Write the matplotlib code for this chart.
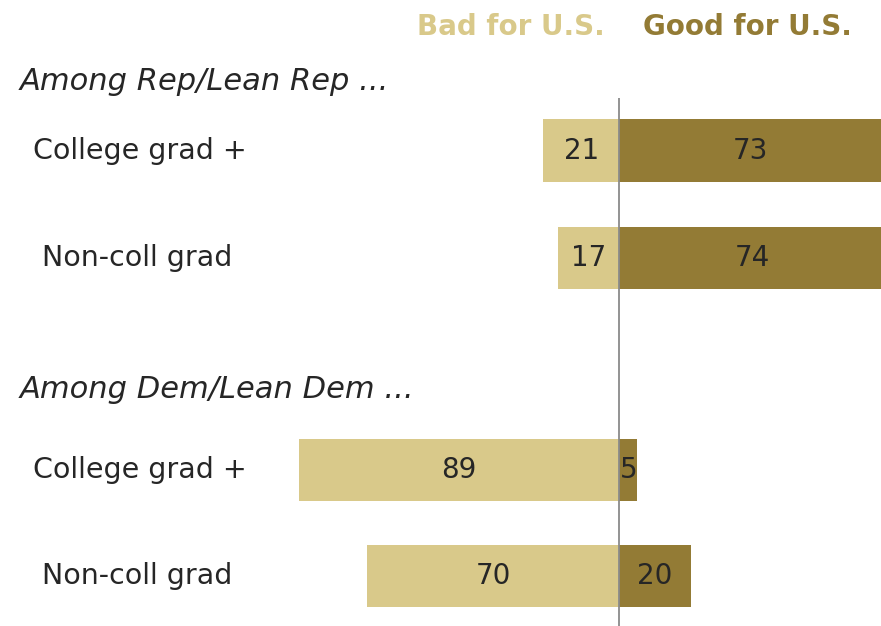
import matplotlib
matplotlib.use("Agg")
import matplotlib.pyplot as plt

LIGHT = "#D9C98A"
DARK = "#937B35"
TEXT = "#262626"
LINE = "#8a8a8a"

groups = ["Among Rep/Lean Rep ...", "Among Dem/Lean Dem ..."]
rows = ["College grad +", "Non-coll grad", "College grad +", "Non-coll grad"]
bad = [21, 17, 89, 70]
good = [73, 74, 5, 20]

# layout
ypos = [0, 1, 2.97, 3.96]
label_x = [33, 42, 33, 42]
XMIN, XMAX = -172, 72.8
YMIN, YMAX = 4.423, -1.4
FONT = "DejaVu Sans"

fig = plt.figure(figsize=(8.81, 6.26), dpi=100)
ax = fig.add_axes([0, 0, 1, 1])
ax.set_xlim(XMIN, XMAX)
ax.set_ylim(YMIN, YMAX)
ax.axis("off")

ax.barh(ypos, [-b for b in bad], height=0.58, color=LIGHT, linewidth=0)
ax.barh(ypos, good, height=0.58, color=DARK, linewidth=0)
ax.vlines(0, -0.49, YMIN, color=LINE, linewidth=1.3)

for y, b, g in zip(ypos, bad, good):
    ax.text(-b / 2, y, str(b), ha="center", va="center", fontsize=20,
            color=TEXT, family=FONT)
    gx = min(g / 2, XMAX / 2 + 2)
    if g < 8:
        gx = g / 2 + 0.3
    ax.text(gx, y, str(g), ha="center", va="center", fontsize=20,
            color=TEXT, family=FONT)


def px(x):
    return XMIN + (XMAX - XMIN) * x / 881


for y, lab, lx in zip(ypos, rows, label_x):
    ax.text(px(lx), y, lab, ha="left", va="center", fontsize=20.5,
            color=TEXT, family=FONT)

for y, g in zip([-0.64, 2.22], groups):
    ax.text(px(20), y, g, ha="left", va="center", fontsize=22,
            style="italic", color=TEXT, family=FONT)

ax.text(px(605), -1.15, "Bad for U.S.", ha="right", va="center", fontsize=20,
        fontweight="bold", color=LIGHT, family=FONT)
ax.text(px(643), -1.15, "Good for U.S.", ha="left", va="center", fontsize=20,
        fontweight="bold", color=DARK, family=FONT)

fig.savefig("out.png", dpi=100)
